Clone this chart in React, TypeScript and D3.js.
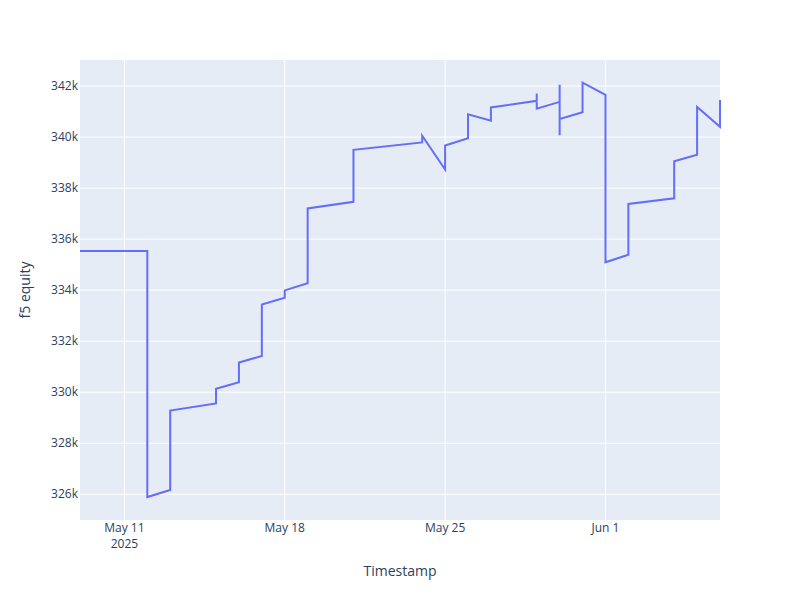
import React from "react";
import * as d3 from "d3";

const timestamps: string[] = [
  "2025-05-09T01:30:00Z", "2025-05-12T00:00:00Z", "2025-05-12T00:00:00Z",
  "2025-05-13T00:00:00Z", "2025-05-13T00:00:00Z", "2025-05-15T00:00:00Z",
  "2025-05-15T00:00:00Z", "2025-05-16T00:00:00Z", "2025-05-16T00:00:00Z",
  "2025-05-17T00:00:00Z", "2025-05-17T00:00:00Z", "2025-05-18T00:00:00Z",
  "2025-05-18T00:00:00Z", "2025-05-19T00:00:00Z", "2025-05-19T00:00:00Z",
  "2025-05-21T00:00:00Z", "2025-05-21T00:00:00Z", "2025-05-24T00:00:00Z",
  "2025-05-24T00:00:00Z", "2025-05-25T00:00:00Z", "2025-05-25T00:00:00Z",
  "2025-05-26T00:00:00Z", "2025-05-26T00:00:00Z", "2025-05-27T00:00:00Z",
  "2025-05-27T00:00:00Z", "2025-05-29T00:00:00Z", "2025-05-29T00:00:00Z",
  "2025-05-29T00:00:00Z", "2025-05-30T00:00:00Z", "2025-05-30T00:00:00Z",
  "2025-05-30T00:00:00Z", "2025-05-30T00:00:00Z", "2025-05-31T00:00:00Z",
  "2025-05-31T00:00:00Z", "2025-06-01T00:00:00Z", "2025-06-01T00:00:00Z",
  "2025-06-02T00:00:00Z", "2025-06-02T00:00:00Z", "2025-06-04T00:00:00Z",
  "2025-06-04T00:00:00Z", "2025-06-05T00:00:00Z", "2025-06-05T00:00:00Z",
  "2025-06-06T00:00:00Z", "2025-06-06T00:00:00Z",
];

const equity: number[] = [
  335530, 335530, 325890,
  326170, 329280, 329560,
  330130, 330390, 331160,
  331420, 333440, 333700,
  333990, 334270, 337200,
  337460, 339500, 339790,
  340050, 338730, 339670,
  339950, 340890, 340640,
  341160, 341420, 341710,
  341110, 341380, 342050,
  340070, 340710, 340970,
  342130, 341650, 335090,
  335390, 337380, 337600,
  339050, 339310, 341180,
  340400, 341450,
];

const yTickValues: number[] = [326000, 328000, 330000, 332000, 334000, 336000, 338000, 340000, 342000];
const xTickDates: string[] = ["2025-05-11T00:00:00Z", "2025-05-18T00:00:00Z", "2025-05-25T00:00:00Z", "2025-06-01T00:00:00Z"];
const xTickLabels: string[][] = [["May 11", "2025"], ["May 18"], ["May 25"], ["Jun 1"]];
const yRange: number[] = [324990, 343020];

const W = 800;
const H = 600;
const M = { l: 80, r: 80, t: 60, b: 80 };
const FONT = "'Open Sans', sans-serif";
const TEXT = "#2a3f5f";

export default function App() {
  const data = timestamps.map((t, i) => ({ t: new Date(t), v: equity[i] }));
  const x = d3
    .scaleUtc()
    .domain(d3.extent(data, (d) => d.t) as [Date, Date])
    .range([M.l, W - M.r]);
  const y = d3.scaleLinear().domain(yRange).range([H - M.b, M.t]);
  const line = d3
    .line<{ t: Date; v: number }>()
    .x((d) => x(d.t))
    .y((d) => y(d.v));

  return (
    <div style={{ position: "absolute", left: 0, top: 0 }}>
      <svg width={W} height={H} style={{ display: "block", background: "#fff" }}>
        <rect x={M.l} y={M.t} width={W - M.l - M.r} height={H - M.t - M.b} fill="#E5ECF6" />
        <g>
          {xTickDates.map((d) => (
            <line key={d} x1={x(new Date(d))} x2={x(new Date(d))} y1={M.t} y2={H - M.b} stroke="#fff" strokeWidth={1} />
          ))}
          {yTickValues.map((v) => (
            <line key={v} x1={M.l} x2={W - M.r} y1={y(v)} y2={y(v)} stroke="#fff" strokeWidth={1} />
          ))}
        </g>
        <path d={line(data) || ""} fill="none" stroke="#636efa" strokeWidth={2} />
        <g fontFamily={FONT} fontSize={12} fill={TEXT}>
          {yTickValues.map((v) => (
            <text key={v} x={M.l - 2} y={y(v)} dy="0.35em" textAnchor="end">
              {`${v / 1000}k`}
            </text>
          ))}
          {xTickDates.map((d, i) => (
            <text key={d} x={x(new Date(d))} y={532} textAnchor="middle">
              {xTickLabels[i].map((s, j) => (
                <tspan key={j} x={x(new Date(d))} dy={j === 0 ? 0 : 16}>
                  {s}
                </tspan>
              ))}
            </text>
          ))}
        </g>
        <text x={(M.l + W - M.r) / 2} y={576} textAnchor="middle" fontFamily={FONT} fontSize={14} fill={TEXT}>
          Timestamp
        </text>
        <text
          transform={`translate(25,${(M.t + H - M.b) / 2}) rotate(-90)`}
          textAnchor="middle"
          dy="0.35em"
          fontFamily={FONT}
          fontSize={14}
          fill={TEXT}
        >
          f5 equity
        </text>
      </svg>
    </div>
  );
}
